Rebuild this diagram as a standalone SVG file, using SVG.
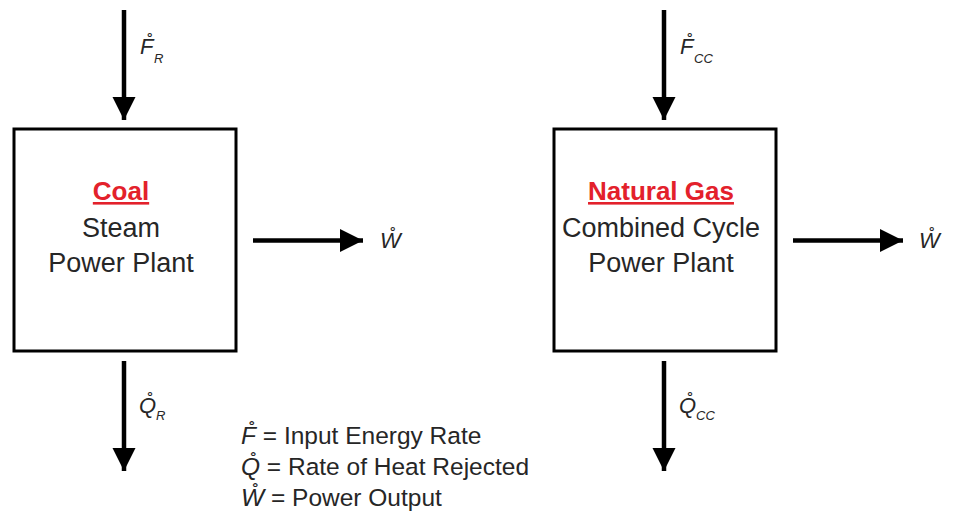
<svg xmlns="http://www.w3.org/2000/svg" width="953" height="516" viewBox="0 0 953 516">
<style>
  .box{fill:#fff;stroke:#000;stroke-width:3}
  .flow{stroke:#000;stroke-width:4.5;fill:none}
  .t{font-family:"Liberation Sans",Arial,sans-serif;font-size:27px;fill:#262626;text-anchor:middle}
  .h{font-family:"Liberation Sans",Arial,sans-serif;font-size:26px;font-weight:bold;fill:#e3212b;text-anchor:middle;text-decoration:underline}
  .v{font-family:"Liberation Sans",Arial,sans-serif;font-size:22px;font-style:italic;fill:#262626}
  .s{font-family:"Liberation Sans",Arial,sans-serif;font-size:13px;font-style:italic;fill:#262626}
  .lg{font-family:"Liberation Sans",Arial,sans-serif;font-size:24.5px;fill:#262626}
</style>
<defs>
  <marker id="ah" markerUnits="userSpaceOnUse" markerWidth="24" markerHeight="24" refX="23" refY="11.5" orient="auto">
    <path d="M0,0 L23,11.5 L0,23 Z" fill="#000"/>
  </marker>
</defs>
<g id="connectors">
  <line class="flow" x1="124" y1="10" x2="124" y2="120" marker-end="url(#ah)"/>
  <line class="flow" x1="124" y1="361" x2="124" y2="471" marker-end="url(#ah)"/>
  <line class="flow" x1="253" y1="240.5" x2="363" y2="240.5" marker-end="url(#ah)"/>
  <line class="flow" x1="664" y1="10" x2="664" y2="120" marker-end="url(#ah)"/>
  <line class="flow" x1="664" y1="361" x2="664" y2="471" marker-end="url(#ah)"/>
  <line class="flow" x1="793" y1="240.5" x2="903" y2="240.5" marker-end="url(#ah)"/>
</g>
<g id="coal-plant">
  <rect class="box" x="14" y="129" width="222" height="222"/>
  <text class="h" x="121" y="200">Coal</text>
  <text class="t" x="121" y="237">Steam</text>
  <text class="t" x="121" y="272">Power Plant</text>
</g>
<g id="gas-plant">
  <rect class="box" x="554" y="129" width="222" height="222"/>
  <text class="h" x="661" y="200">Natural Gas</text>
  <text class="t" x="661" y="237">Combined Cycle</text>
  <text class="t" x="661" y="272">Power Plant</text>
</g>
<g id="labels">
  <text class="v" x="140" y="54">F̊</text><text class="s" x="154" y="63">R</text>
  <text class="v" x="139" y="413">Q̊</text><text class="s" x="156" y="420">R</text>
  <text class="v" x="380" y="248">W̊</text>
  <text class="v" x="680" y="54">F̊</text><text class="s" x="694" y="63">CC</text>
  <text class="v" x="679" y="413">Q̊</text><text class="s" x="696" y="420">CC</text>
  <text class="v" x="919" y="248">W̊</text>
</g>
<g id="legend">
  <text class="lg" x="241" y="444"><tspan font-style="italic">F̊</tspan> = Input Energy Rate</text>
  <text class="lg" x="241" y="475"><tspan font-style="italic">Q̊</tspan> = Rate of Heat Rejected</text>
  <text class="lg" x="241" y="506"><tspan font-style="italic">W̊</tspan> = Power Output</text>
</g>
</svg>
